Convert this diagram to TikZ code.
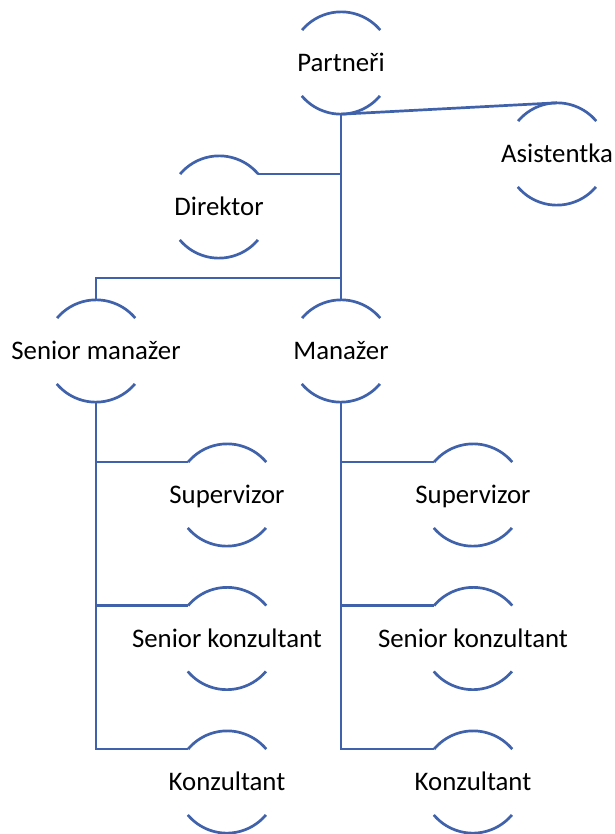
\documentclass[tikz,border=0pt]{standalone}
\usepackage{fontspec}
\setmainfont{Carlito}
\definecolor{orgblue}{RGB}{64,98,170}
\newcommand{\rolebox}[1]{\makebox[0pt]{#1}}
\tikzset{
  role/.style={circle,minimum size=102pt,inner sep=0pt,
    font=\fontsize{26.8pt}{32pt}\selectfont,text height=20pt,text depth=3pt},
  orgline/.style={draw=orgblue,line width=2.7pt}
}
\begin{document}
\begin{tikzpicture}[x=1pt,y=1pt]
\useasboundingbox (0,0) rectangle (614,-834);
% top of the chart
\node[role](partneri) at (341,-63){\rolebox{Partneři}};
\node[role](asistentka) at (557,-154){\rolebox{Asistentka}};
\node[role](direktor) at (219,-207){\rolebox{Direktor}};
\node[role](senmanazer) at (96,-351){\rolebox{Senior manažer}};
\node[role](manazer) at (341,-351){\rolebox{Manažer}};
% two columns below the managers
\node[role](supL) at (227,-495){\rolebox{Supervizor}};
\node[role](senkonL) at (227,-638.5){\rolebox{Senior konzultant}};
\node[role](konL) at (227,-782){\rolebox{Konzultant}};
\node[role](supR) at (473,-495){\rolebox{Supervizor}};
\node[role](senkonR) at (473,-638.5){\rolebox{Senior konzultant}};
\node[role](konR) at (473,-782){\rolebox{Konzultant}};
\coordinate (bar) at (341,-278);
% the arcs round each name
\foreach \n in {partneri,asistentka,direktor,senmanazer,manazer,supL,senkonL,konL,supR,senkonR,konR}{
  \draw[orgline](\n.40) arc (40:140:51);
  \draw[orgline](\n.220) arc (220:320:51);
}
% connectors
\draw[orgline](partneri.south)--(manazer.north);
\draw[orgline](partneri.south)--(asistentka.north);
\draw[orgline](direktor.40)--(direktor.40 -| partneri.south);
\draw[orgline](senmanazer.north)|-(bar);
\foreach \c in {supL,senkonL,konL}
  \draw[orgline](senmanazer.south)|-(\c.140);
\foreach \c in {supR,senkonR,konR}
  \draw[orgline](manazer.south)|-(\c.140);
\end{tikzpicture}
\end{document}
